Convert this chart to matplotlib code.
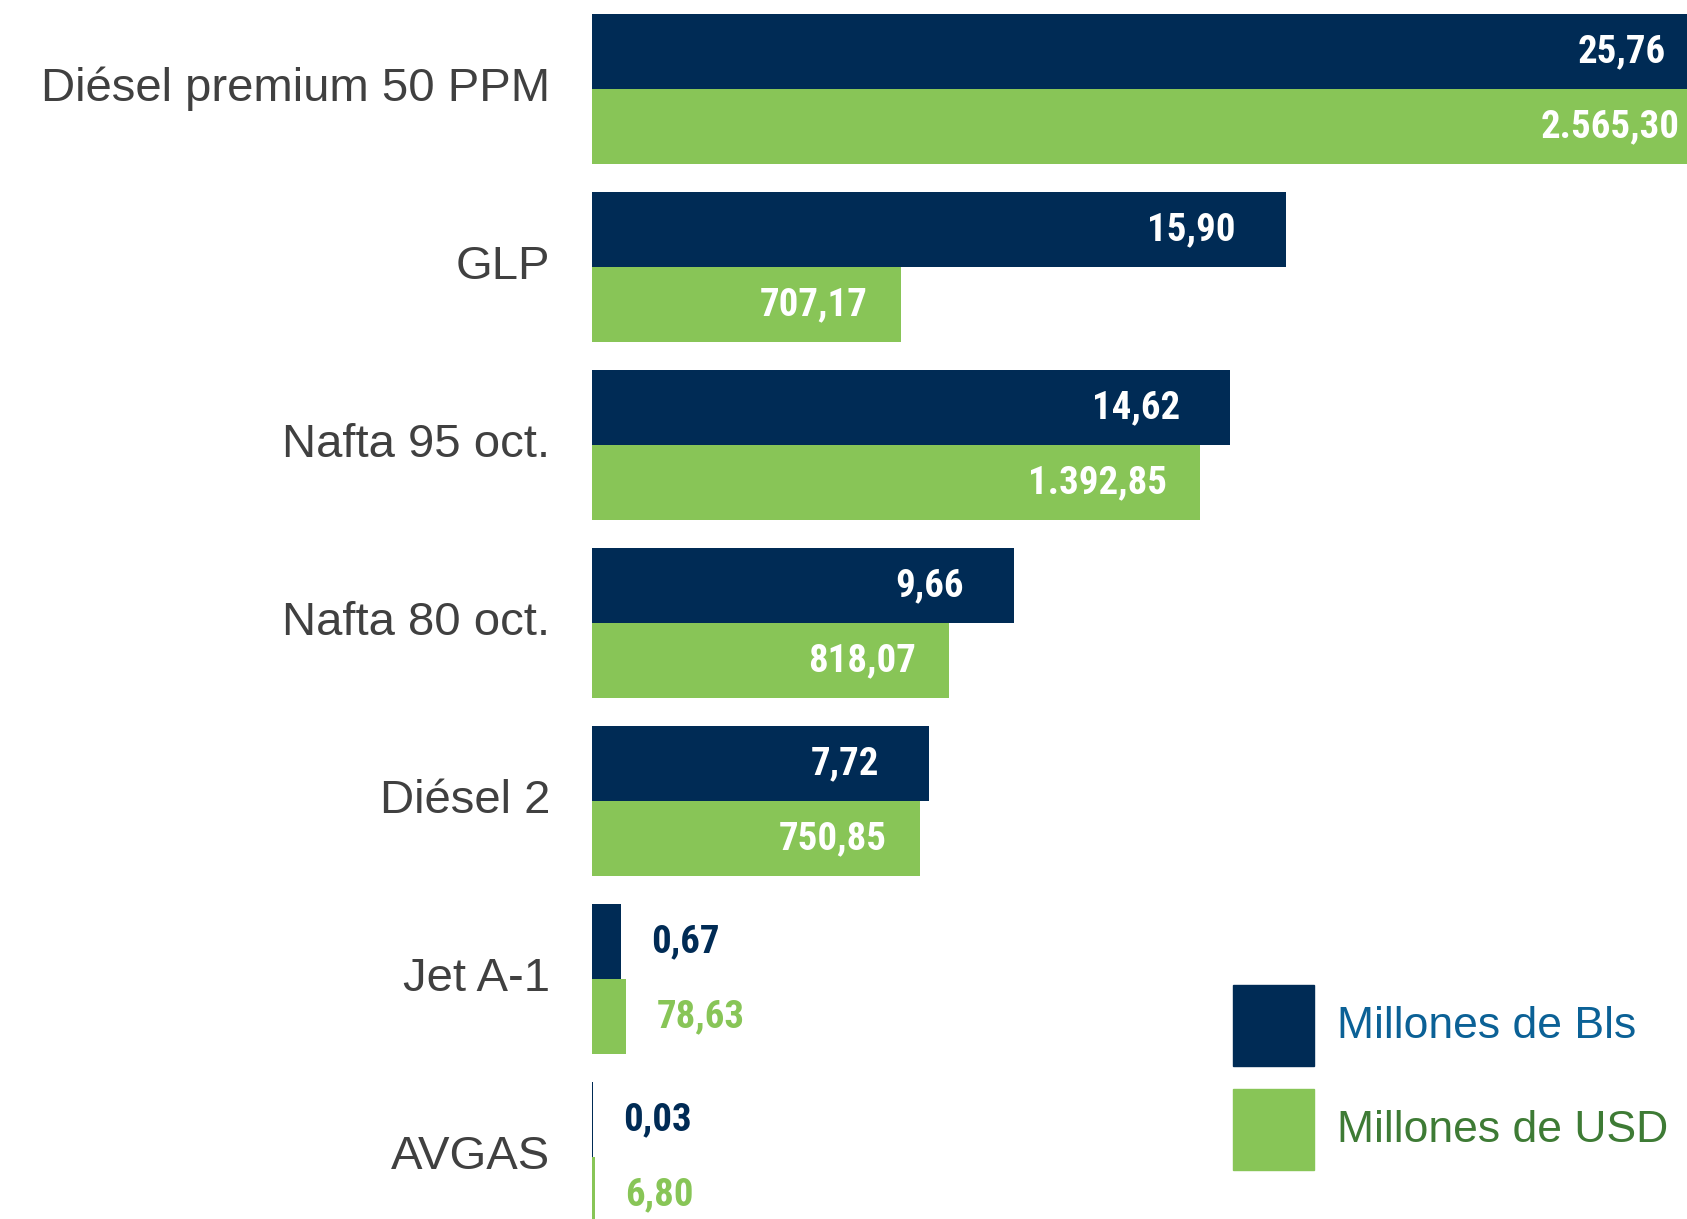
import matplotlib.pyplot as plt
from matplotlib.patches import Rectangle
from matplotlib.transforms import offset_copy

categories = ["Diésel premium 50 PPM", "GLP", "Nafta 95 oct.", "Nafta 80 oct.",
              "Diésel 2", "Jet A-1", "AVGAS"]
bls = [25.76, 15.90, 14.62, 9.66, 7.72, 0.67, 0.03]
usd = [2565.30, 707.17, 1392.85, 818.07, 750.85, 78.63, 6.80]
bls_labels = ["25,76", "15,90", "14,62", "9,66", "7,72", "0,67", "0,03"]
usd_labels = ["2.565,30", "707,17", "1.392,85", "818,07", "750,85", "78,63", "6,80"]

NAVY = "#002B55"
GREEN = "#88C557"
# narrow bold face for the value labels (Arial Narrow look-alikes)
LABEL_FONT = ["Liberation Sans Narrow", "Roboto Condensed", "Archivo Narrow",
              "PT Sans Narrow", "IBM Plex Sans Condensed", "DejaVu Sans"]

plt.rcParams["font.family"] = ["Liberation Sans", "DejaVu Sans"]

W, H = 1687, 1219
fig = plt.figure(figsize=(W / 100, H / 100), dpi=100)

# pixel geometry of the plotting area (bars of the largest value run past the edge)
left_px, right_px = 592, 1716
pitch_px = 178
first_px = 89
ax = fig.add_axes([left_px / W, 0, (right_px - left_px) / W, 1])
ax.set_xlim(0, max(bls))
top = -first_px / pitch_px
ax.set_ylim(top + H / pitch_px, top)
ax.axis("off")

ax2 = ax.twiny()
ax2.set_xlim(0, max(usd) * 1.003)
ax2.set_ylim(ax.get_ylim())
ax2.axis("off")

h = 75 / pitch_px
pos = list(range(len(categories)))
ax.barh([p - h / 2 for p in pos], bls, height=h, color=NAVY)
ax2.barh([p + h / 2 for p in pos], usd, height=h, color=GREEN)


def value_label(axis, x, y, text, color, inside, pad_in):
    if inside:
        tr = offset_copy(axis.transData, fig=fig, x=-pad_in, y=0, units="dots")
        axis.text(x, y, text, transform=tr, ha="right", va="center", color="white",
                  fontsize=28, fontweight="bold", family=LABEL_FONT)
    else:
        tr = offset_copy(axis.transData, fig=fig, x=30, y=0, units="dots")
        axis.text(x, y, text, transform=tr, ha="left", va="center", color=color,
                  fontsize=28, fontweight="bold", family=LABEL_FONT)


for p, v, lab in zip(pos, bls, bls_labels):
    value_label(ax, v, p - h / 2, lab, NAVY, v / max(bls) > 0.1, 50)

for p, v, lab in zip(pos, usd, usd_labels):
    value_label(ax2, v, p + h / 2, lab, GREEN, v / max(usd) > 0.1, 33)

# category names, right aligned left of the bars
for p, name in zip(pos, categories):
    tr = offset_copy(ax.transData, fig=fig, x=-42, y=0, units="dots")
    ax.text(0, p, name, transform=tr, ha="right", va="center",
            color="#404040", fontsize=34)

# legend drawn by hand in figure pixels
legend_items = [("Millones de Bls", NAVY, "#0B6196"), ("Millones de USD", GREEN, "#3E7B35")]
for i, (txt, fc, tc) in enumerate(legend_items):
    y0 = H - 1066 - i * 104
    fig.patches.append(Rectangle((1233 / W, y0 / H), 81 / W, 81 / H,
                                 transform=fig.transFigure, color=fc))
    fig.text(1337 / W, (y0 + 40) / H, txt, ha="left", va="center",
             color=tc, fontsize=32)

fig.savefig("out.png", dpi=100)
